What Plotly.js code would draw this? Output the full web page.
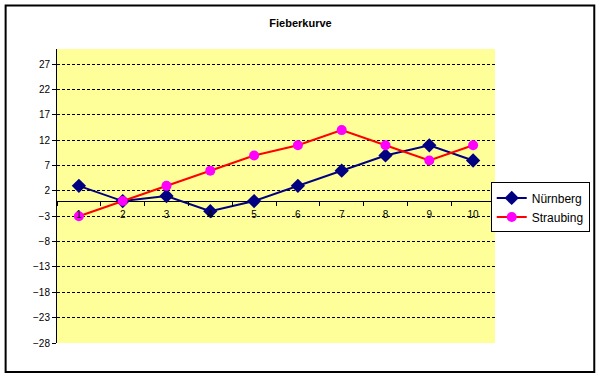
<!DOCTYPE html>
<html>
<head>
<meta charset="utf-8">
<script src="https://cdn.plot.ly/plotly-3.0.1.min.js"></script>
<style>html,body{margin:0;padding:0;background:#fff;}#chart{width:601px;height:379px;}</style>
</head>
<body>
<div id="chart"></div>
<script>
var categories = ['1','2','3','4','5','6','7','8','9','10'];
var nuernberg = [3, 0, 1, -2, 0, 3, 6, 9, 11, 8];
var straubing = [-3, 0, 3, 6, 9, 11, 14, 11, 8, 11];
var yMin = -28, yMax = 30, yStep = 5;

var font = 'Liberation Sans, Arial, sans-serif';

var traces = [
  {
    x: categories, y: nuernberg, name: 'Nürnberg', type: 'scatter', mode: 'lines+markers',
    line: {color: '#000080', width: 2},
    marker: {symbol: 'diamond', size: 11, color: '#000080'}
  },
  {
    x: categories, y: straubing, name: 'Straubing', type: 'scatter', mode: 'lines+markers',
    line: {color: '#FF0000', width: 2},
    marker: {symbol: 'circle', size: 10, color: '#FF00FF'}
  }
];

var layout = {
  width: 601, height: 379,
  margin: {l: 57, r: 105, t: 49, b: 36, pad: 0},
  paper_bgcolor: '#ffffff',
  plot_bgcolor: '#FFFF99',
  font: {family: font, size: 10, color: '#000'},
  title: {text: '<b>Fieberkurve</b>', font: {family: font, size: 11, color: '#000'}, x: 0.5, xref: 'container', y: 0.94, yref: 'container', yanchor: 'middle'},
  showlegend: true,
  legend: {
    x: 0.988, xanchor: 'left', y: 0.461, yanchor: 'middle',
    bgcolor: '#ffffff', bordercolor: '#000', borderwidth: 1,
    font: {family: font, size: 12, color: '#000'},
    tracegroupgap: 0, itemwidth: 30
  },
  xaxis: {
    type: 'category', range: [-0.5, 9.5],
    anchor: 'free', position: (0 - yMin) / (yMax - yMin),
    showline: false, showgrid: false, zeroline: false,
    ticks: 'outside', tickson: 'boundaries', ticklen: 4, tickcolor: '#000', tickwidth: 1,
    ticklabelstandoff: 6,
    tickfont: {family: font, size: 10, color: '#000'},
    fixedrange: true
  },
  yaxis: {
    range: [yMin, yMax], tick0: yMin, dtick: yStep, tickmode: 'linear',
    showline: true, linecolor: '#000', linewidth: 1,
    showgrid: true, gridcolor: '#000', gridwidth: 1, griddash: '3px,2px',
    zeroline: true, zerolinecolor: '#000', zerolinewidth: 1,
    ticks: 'outside', ticklen: 4, tickcolor: '#000', tickwidth: 1,
    tickfont: {family: font, size: 10, color: '#000'},
    fixedrange: true
  },
  shapes: [
    {type: 'rect', xref: 'paper', yref: 'paper',
     x0: (5.5 - 57) / 439, x1: (595.5 - 57) / 439,
     y0: (343 - 372) / 294, y1: (343 - 5.5) / 294,
     line: {color: '#000', width: 2}, fillcolor: 'rgba(0,0,0,0)', layer: 'below'}
  ]
};

Plotly.newPlot('chart', traces, layout, {displayModeBar: false, staticPlot: true});
</script>
</body>
</html>
